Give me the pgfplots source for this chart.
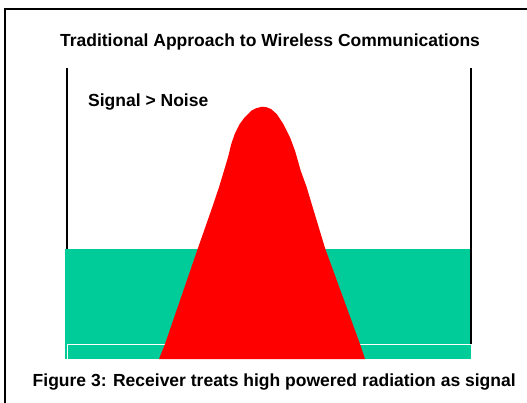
\documentclass[border=0pt]{standalone}
\usepackage{pgfplots}
\pgfplotsset{compat=1.18}
\usepackage{fontspec}
\setmainfont{Liberation Sans}
\definecolor{noisegreen}{RGB}{0,204,153}
\begin{document}
\begin{tikzpicture}
\begin{axis}[
  scale only axis, width=527pt, height=402pt,
  xmin=0, xmax=527, ymin=0, ymax=402,
  hide axis, clip=true,
]
% outer frame (top and left edges visible)
\addplot[black, line width=2pt] coordinates {(5,-20) (5,392.5) (560,392.5)};
% left axis line (under the noise band)
\addplot[black, line width=2pt] coordinates {(67,58) (67,334)};
% noise band
\addplot[fill=noisegreen, draw=none] coordinates {(65,43.3) (471,43.3) (471,153) (65,153)} -- cycle;
% white baseline
\addplot[white, line width=1pt] coordinates {(67,43.3) (67,58) (471,58)};
% right axis line
\addplot[black, line width=2pt] coordinates {(470.5,58) (470.5,334)};
% signal
\addplot[fill=red, draw=none] coordinates {
 (159,43) (165,58) (198,154) (212,194) (219,214.7) (224,231.3) (228,244.7)
 (231.3,258) (234.7,268) (239.7,278) (244.7,284.7) (251.3,291.3) (256,293.7)
 (259.7,294.7) (262,295.3)
 (266.7,294.7) (271,293) (276.7,288) (283.3,278) (290,264.7) (295,251.3)
 (300.7,231.3) (306.7,214.7) (311.7,198) (325,154) (360,58) (365,43)} -- cycle;
\node[anchor=base, inner sep=0pt, font=\fontsize{17.5}{21}\selectfont\bfseries] at (axis cs:270,355.3) {Traditional Approach to Wireless Communications};
\node[anchor=base west, inner sep=0pt, font=\fontsize{17.5}{21}\selectfont\bfseries] at (axis cs:88,295) {Signal > Noise};
\node[anchor=base, inner sep=0pt, font=\fontsize{17.5}{21}\selectfont\bfseries] at (axis cs:274.2,15.3) {Figure 3: Receiver treats high powered radiation as signal};
\end{axis}
\pgfresetboundingbox
\useasboundingbox (current axis.south west) rectangle (current axis.north east);
\end{tikzpicture}
\end{document}
